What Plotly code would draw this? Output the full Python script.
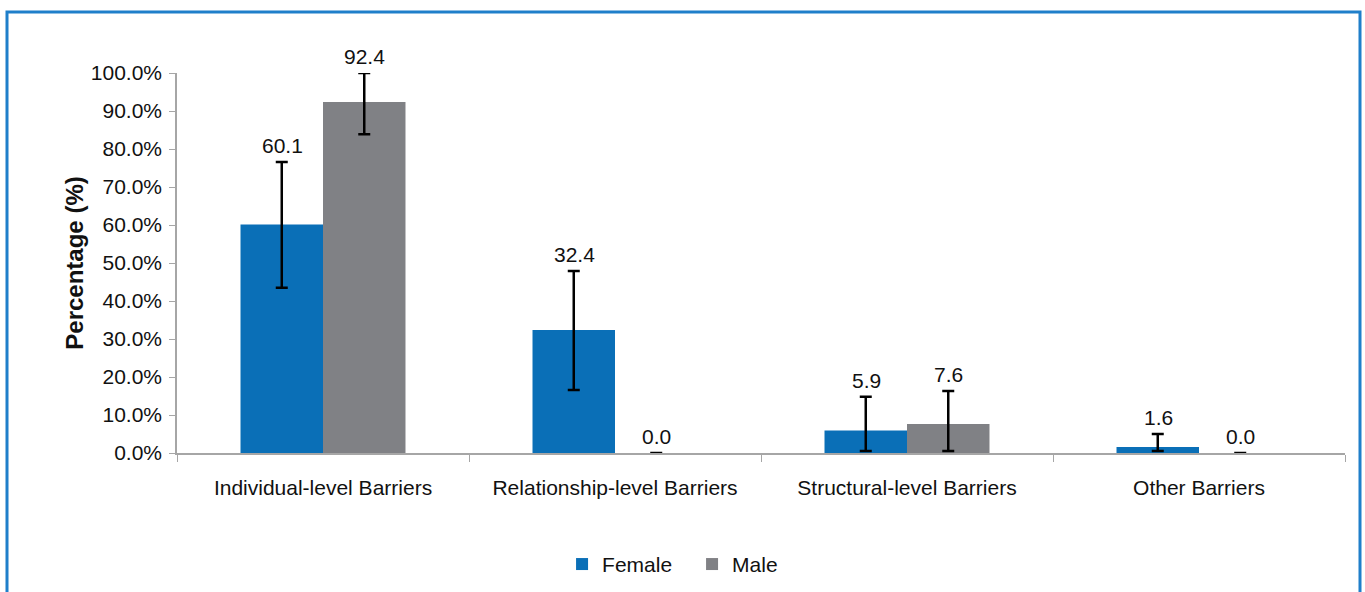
import plotly.graph_objects as go

categories = ["Individual-level Barriers", "Relationship-level Barriers",
              "Structural-level Barriers", "Other Barriers"]
female = [60.1, 32.4, 5.9, 1.6]
male = [92.4, 0.0, 7.6, 0.0]
female_err_plus = [16.5, 15.5, 8.9, 3.4]
female_err_minus = [16.6, 15.8, 5.4, 1.1]
male_err_plus = [7.6, 0.0, 8.7, 0.0]
male_err_minus = [8.5, 0.0, 7.1, 0.0]
series_names = ["Female", "Male"]
colors = ["#0a6fb7", "#808185"]

FONT = "Liberation Sans, Arial, Helvetica, sans-serif"

fig = go.Figure()
for name, vals, ep, em, col in [
    (series_names[0], female, female_err_plus, female_err_minus, colors[0]),
    (series_names[1], male, male_err_plus, male_err_minus, colors[1]),
]:
    fig.add_trace(go.Bar(
        name=name, x=categories, y=vals, marker=dict(color=col, line=dict(width=0)),
        error_y=dict(type="data", symmetric=False, array=ep, arrayminus=em,
                     color="black", thickness=2.5, width=6),
    ))

annotations = []
for vals, ep, shift in [(female, female_err_plus, -41), (male, male_err_plus, 41)]:
    for c, v, e in zip(categories, vals, ep):
        annotations.append(dict(
            x=c, y=v + e, xref="x", yref="y", text=f"{v:.1f}", showarrow=False,
            xshift=shift, yanchor="bottom", yshift=3,
            font=dict(family=FONT, size=21, color="#111111"),
        ))

W, H = 1365, 592
L, R, T, B = 177, 20, 73, 139
pw, ph = W - L - R, H - T - B
def px2x(p):
    return (p - L) / pw
def py2y(p):
    return (H - B - p) / ph

fig.update_layout(
    width=W, height=H,
    margin=dict(l=L, r=R, t=T, b=B, pad=0),
    paper_bgcolor="white", plot_bgcolor="white",
    barmode="group", bargap=0.435, bargroupgap=0,
    font=dict(family=FONT, size=21, color="#111111"),
    showlegend=True,
    legend=dict(orientation="h", xref="container", yref="container",
                x=0.507, xanchor="center", y=0.012, yanchor="bottom",
                font=dict(size=21), itemwidth=30, entrywidth=85, traceorder="normal"),
    annotations=annotations,
    shapes=[dict(type="rect", xref="paper", yref="paper",
                 x0=px2x(7), x1=px2x(1360), y0=py2y(610), y1=py2y(12),
                 line=dict(color="#1f7fca", width=3), layer="below")],
)
fig.update_yaxes(
    range=[0, 100], dtick=10, tickformat=".1f", ticksuffix="%",
    showgrid=False, zeroline=False, showline=True, linecolor="#a6a6a6", linewidth=1.5,
    ticks="outside", ticklen=6, tickcolor="#a6a6a6",
    tickfont=dict(size=21), ticklabelstandoff=3,
    title=dict(text="<b>Percentage (%)</b>", font=dict(size=24), standoff=0),
)
fig.update_xaxes(
    showgrid=False, showline=True, linecolor="#a6a6a6", linewidth=1.5,
    ticks="outside", ticklen=7, tickcolor="#a6a6a6", tickson="boundaries",
    tickfont=dict(size=21), ticklabelstandoff=15,
)

fig.write_html("out.html", config={"displayModeBar": False},
               post_script="document.body.style.margin='0';document.body.style.overflow='hidden';")
